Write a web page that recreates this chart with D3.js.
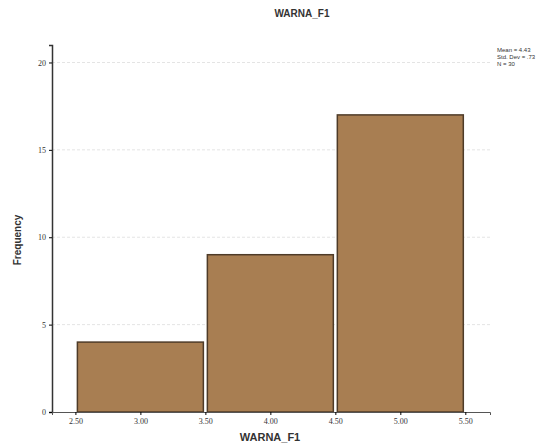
<!DOCTYPE html>
<html><head><meta charset="utf-8">
<script src="https://cdn.jsdelivr.net/npm/d3@7"></script>
<style>body{margin:0;background:#fff;} svg{display:block;}</style>
</head><body>
<script>
const binStarts = [2.5, 3.5, 4.5];
const binEnds = [3.5, 4.5, 5.5];
const frequencies = [4, 9, 17];
const xTicks = [2.5, 3.0, 3.5, 4.0, 4.5, 5.0, 5.5];
const yTicks = [0, 5, 10, 15, 20];
const statsLines = ["Mean = 4.43", "Std. Dev = .73", "N = 30"];
const title = "WARNA_F1";

const W = 551, H = 447;
const svg = d3.select("body").append("svg").attr("width", W).attr("height", H);

const x = d3.scaleLinear().domain([2.32, 5.69]).range([52, 490]);
const y = d3.scaleLinear().domain([0, 21]).range([412, 45]);

// gridlines
svg.append("g").selectAll("line").data(yTicks.filter(d => d > 0)).join("line")
  .attr("x1", x(2.32)).attr("x2", x(5.69))
  .attr("y1", d => y(d)).attr("y2", d => y(d))
  .attr("stroke", "#e4e4e4").attr("stroke-width", 1).attr("stroke-dasharray", "3,2");

// bars
const bins = binStarts.map((s, i) => ({s, e: binEnds[i], f: frequencies[i]}));
svg.append("g").selectAll("rect").data(bins).join("rect")
  .attr("x", d => x(d.s) + 2)
  .attr("width", d => x(d.e) - x(d.s) - 4)
  .attr("y", d => y(d.f))
  .attr("height", d => y(0) - y(d.f))
  .attr("fill", "#a87e52")
  .attr("stroke", "#4e3b28")
  .attr("stroke-width", 1.5);

// axes
const yAxis = d3.axisLeft(y).tickValues(yTicks).tickSize(3).tickFormat(d3.format("d"));
const gy = svg.append("g").attr("transform", `translate(${x(2.32)},0)`).call(yAxis);
gy.select(".domain").attr("stroke", "#333").attr("stroke-width", 1.5);
gy.selectAll("text").attr("font-family", "Liberation Serif, serif").attr("font-size", 8).attr("fill", "#333");

const xAxis = d3.axisBottom(x).tickValues(xTicks).tickSize(3).tickFormat(d3.format(".2f"));
const gx = svg.append("g").attr("transform", `translate(0,${y(0)})`).call(xAxis);
gx.select(".domain").attr("stroke", "#555").attr("stroke-width", 1);
gx.selectAll("text").attr("font-family", "Liberation Serif, serif").attr("font-size", 8).attr("fill", "#333");

// title
svg.append("text").attr("x", 302).attr("y", 17).attr("text-anchor", "middle")
  .attr("font-family", "Liberation Sans, Arial, sans-serif").attr("font-weight", "bold")
  .attr("font-size", 10).attr("fill", "#333").text(title);

// axis labels
svg.append("text").attr("transform", `translate(21,240) rotate(-90)`).attr("text-anchor", "middle")
  .attr("font-family", "Liberation Sans, Arial, sans-serif").attr("font-weight", "bold")
  .attr("font-size", 10).attr("fill", "#333").text("Frequency");
svg.append("text").attr("x", 270).attr("y", 441).attr("text-anchor", "middle")
  .attr("font-family", "Liberation Sans, Arial, sans-serif").attr("font-weight", "bold")
  .attr("font-size", 11).attr("fill", "#333").text("WARNA_F1");

// stats box
svg.append("g").selectAll("text").data(statsLines).join("text")
  .attr("x", 497).attr("y", (d, i) => 52 + i * 7)
  .attr("font-family", "Liberation Sans, Arial, sans-serif")
  .attr("font-size", 6).attr("fill", "#333").text(d => d);
</script>
</body></html>
